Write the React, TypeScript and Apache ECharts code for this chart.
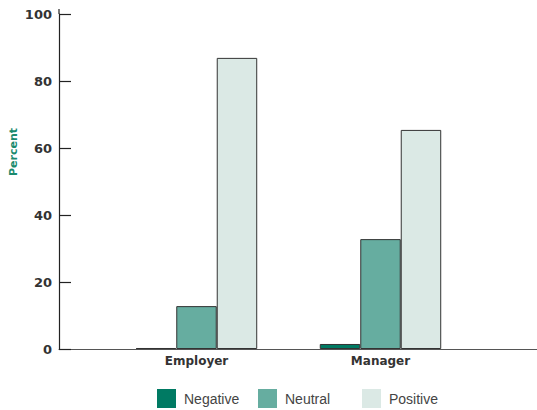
import React, { useEffect, useRef } from "react";
import * as echarts from "echarts";

const categories = ["Employer", "Manager"];
const negative = [0.3, 1.5];
const neutral = [12.8, 32.8];
const positive = [86.9, 65.4];
const seriesNames = ["Negative", "Neutral", "Positive"];
const colors = ["#007a63", "#66ada0", "#dbe9e5"];

export default function App() {
  const ref = useRef<HTMLDivElement>(null);
  useEffect(() => {
    if (!ref.current) return;
    const chart = echarts.init(ref.current, null, { renderer: "svg" });
    const labelFont = { fontFamily: "DejaVu Sans", fontWeight: "bold" as const, fontSize: 13, color: "#333" };
    const data = [negative, neutral, positive];
    const legendLefts = [157, 258, 362];
    chart.setOption({
      animation: false,
      grid: [
        { left: 104.5, width: 368, top: 14, bottom: 61 },
        { left: 59, right: 0, top: 14, bottom: 61 },
      ],
      xAxis: [
        {
          type: "category",
          gridIndex: 0,
          data: categories,
          axisLine: { show: false },
          axisTick: { show: false },
          axisLabel: { ...labelFont, fontSize: 12, margin: 6 },
        },
        {
          type: "category",
          gridIndex: 1,
          data: [],
          axisLine: { show: true, lineStyle: { color: "#555", width: 1.2 } },
          axisTick: { show: false },
          axisLabel: { show: false },
        },
      ],
      yAxis: [
        {
          type: "value",
          gridIndex: 0,
          min: 0,
          max: 100,
          interval: 20,
          show: false,
        },
        {
          type: "value",
          gridIndex: 1,
          min: 0,
          max: 100,
          interval: 20,
          axisLine: { show: true, lineStyle: { color: "#222", width: 1.2 } },
          axisTick: { show: true, inside: true, length: 12, lineStyle: { color: "#222", width: 1.2 } },
          axisLabel: { ...labelFont, margin: 7 },
          splitLine: { show: false },
        },
      ],
      legend: seriesNames.map((n, i) => ({
        data: [n],
        left: legendLefts[i],
        top: 389,
        padding: 0,
        itemWidth: 19,
        itemHeight: 19,
        icon: "rect",
        itemStyle: { borderWidth: 0 },
        textStyle: { fontFamily: "Liberation Sans", fontSize: 14, color: "#444", padding: [0, 0, 0, 3] },
      })),
      graphic: [
        {
          type: "text",
          left: 8,
          top: 128,
          rotation: Math.PI / 2,
          style: {
            text: "Percent",
            fill: "#1a8a6e",
            font: "bold 11px DejaVu Sans",
          },
        },
        {
          type: "line",
          shape: { x1: 59, y1: 9, x2: 59, y2: 14 },
          style: { stroke: "#222", lineWidth: 1.2 },
        },
      ],
      series: seriesNames.map((n, i) => ({
        name: n,
        type: "bar",
        xAxisIndex: 0,
        yAxisIndex: 0,
        data: data[i],
        barGap: "0%",
        barCategoryGap: "34%",
        itemStyle: { color: colors[i], borderColor: "#333", borderWidth: 1 },
      })),
    });
    return () => chart.dispose();
  }, []);
  return <div ref={ref} style={{ width: 537, height: 410, position: "absolute", left: 0, top: 0 }} />;
}
